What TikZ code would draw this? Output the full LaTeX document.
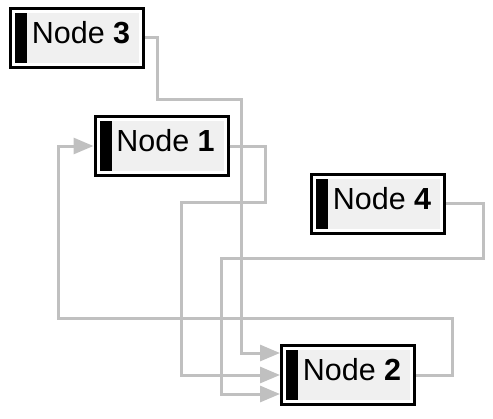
\documentclass[tikz,border=0pt]{standalone}
\usepackage{fontspec}
\setmainfont{Liberation Sans}
\usetikzlibrary{arrows.meta,calc}
\definecolor{linkgray}{RGB}{192,192,192}
\definecolor{boxgray}{RGB}{240,240,240}
\begin{document}
\begin{tikzpicture}[x=1pt, y=-1pt,
    box/.style={draw=black, line width=3pt, fill=white, minimum width=133pt, minimum height=59pt,
        text height=22pt, text depth=11pt, font=\fontsize{30.5}{36}\selectfont,
        execute at begin node=\hspace*{8pt},
        path picture={
            \fill[boxgray] ($(path picture bounding box.south west)+(4.5pt,4.5pt)$) rectangle ($(path picture bounding box.north east)+(-4.5pt,-4.5pt)$);
            \fill[black] ($(path picture bounding box.south west)+(4.5pt,4.5pt)$) rectangle ($(path picture bounding box.north west)+(16.5pt,-4.5pt)$);
        }},
    link/.style={draw=linkgray, line width=3pt, -{Triangle[length=20pt, width=16pt]}}]

    \useasboundingbox (0,0) rectangle (493,418);

    % Knoten
    \node[box] (n3) at (77, 37.5) {Node \textbf{3}};
    \node[box] (n1) at (161.5, 146) {Node \textbf{1}};
    \node[box] (n4) at (378, 203.5) {Node \textbf{4}};
    \node[box] (n2) at (348, 375) {Node \textbf{2}};

    % Verbindungen
    \draw[link] (n3.east) -| (157, 99) -| (241, 353) -- ([yshift=22pt]n2.west);
    \draw[link] (n1.east) -| (265, 202) -| (181, 375) -- (n2.west);
    \draw[link] (n4.east) -| (483, 258) -| (221, 394) -- ([yshift=-19pt]n2.west);
    \draw[link] (n2.east) -| (452, 318) -| (58, 146) -- (n1.west);

\end{tikzpicture}
\end{document}
